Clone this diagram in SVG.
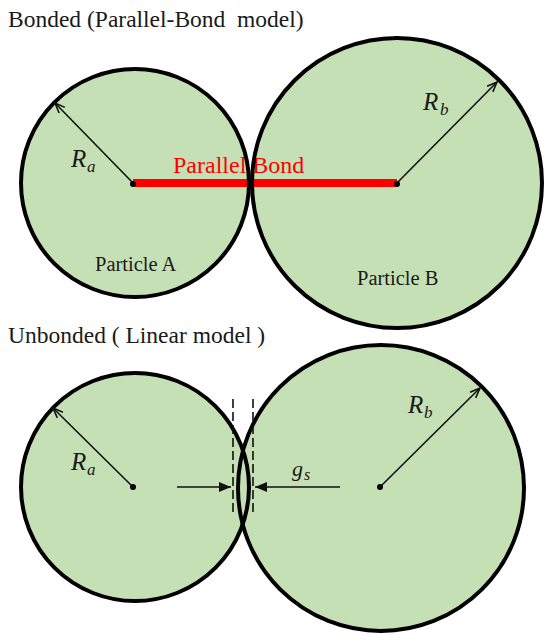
<svg xmlns="http://www.w3.org/2000/svg" xmlns:xlink="http://www.w3.org/1999/xlink" width="550" height="644" viewBox="0 0 550 644">
  <style>
    .fill { fill: #c5e0b4; stroke: none; }
    .outline { fill: none; stroke: #000; stroke-width: 4; }
    .title { font-family: "Liberation Serif", "Times New Roman", serif; font-size: 23.5px; fill: #1a1a1a; }
    .plabel { font-family: "Liberation Serif", "Times New Roman", serif; font-size: 20.5px; fill: #1a1a1a; }
    .sym { font-family: "Liberation Serif", "Times New Roman", serif; font-style: italic; fill: #1a1a1a; }
    .radius { stroke: #111; stroke-width: 1.6; fill: none; marker-end: url(#open); }
    .gap { stroke: #111; stroke-width: 1.6; fill: none; marker-end: url(#solid); }
    .dash { stroke: #111; stroke-width: 1.6; stroke-dasharray: 9 4; fill: none; }
    .dot { fill: #000; }
  </style>
  <defs>
    <marker id="open" markerUnits="userSpaceOnUse" markerWidth="14" markerHeight="12" refX="11" refY="5" orient="auto">
      <path d="M1,1 L11,5 L1,9" fill="none" stroke="#111" stroke-width="1.6"/>
    </marker>
    <marker id="solid" markerUnits="userSpaceOnUse" markerWidth="14" markerHeight="12" refX="12" refY="5" orient="auto">
      <path d="M0,0 L12,5 L0,10 Z" fill="#111"/>
    </marker>
    <circle id="cAt" cx="135" cy="183" r="114"/>
    <circle id="cBt" cx="397" cy="183" r="145"/>
    <circle id="cAb" cx="135" cy="487" r="114"/>
    <circle id="cBb" cx="381" cy="488" r="143"/>
  </defs>

  <rect width="550" height="644" fill="#fff"/>

  <text class="title" x="8" y="27" xml:space="preserve">Bonded (Parallel-Bond  model)</text>
  <text class="title" x="8" y="343" xml:space="preserve">Unbonded ( Linear model )</text>

  <!-- Top: bonded -->
  <g id="particle-a-top">
    <use xlink:href="#cAt" class="fill"/>
    <text class="plabel" x="95" y="271">Particle A</text>
  </g>
  <g id="particle-b-top">
    <use xlink:href="#cBt" class="fill"/>
    <text class="plabel" x="357" y="285">Particle B</text>
  </g>

  <!-- Bottom: unbonded -->
  <g id="particle-a-bottom">
    <use xlink:href="#cAb" class="fill"/>
  </g>
  <g id="particle-b-bottom">
    <use xlink:href="#cBb" class="fill"/>
  </g>

  <g id="parallel-bond">
    <line x1="133" y1="183" x2="397" y2="183" stroke="#ff0000" stroke-width="8"/>
    <text x="173" y="173" font-family="Liberation Serif, Times New Roman, serif" font-size="24" fill="#ff0000">Parallel Bond</text>
  </g>

  <g id="outlines">
    <use xlink:href="#cAt" class="outline"/>
    <use xlink:href="#cBt" class="outline"/>
    <use xlink:href="#cAb" class="outline"/>
    <use xlink:href="#cBb" class="outline"/>
  </g>

  <g id="connectors">
    <line class="radius" x1="133" y1="183" x2="55" y2="103"/>
    <line class="radius" x1="397" y1="183" x2="497" y2="82"/>
    <line class="radius" x1="133" y1="487" x2="53" y2="408"/>
    <line class="radius" x1="380" y1="487" x2="480" y2="388"/>
    <line class="dash" x1="233" y1="399" x2="233" y2="515"/>
    <line class="dash" x1="253" y1="399" x2="253" y2="515"/>
    <line class="gap" x1="177" y1="487" x2="231" y2="487"/>
    <line class="gap" x1="340" y1="487" x2="255" y2="487"/>
  </g>

  <g id="centers">
    <circle class="dot" cx="133" cy="184" r="3"/>
    <circle class="dot" cx="397" cy="184" r="3"/>
    <circle class="dot" cx="133" cy="487" r="3"/>
    <circle class="dot" cx="380" cy="487" r="3"/>
  </g>

  <g id="labels">
    <text class="sym" x="71" y="167" font-size="25">R</text>
    <text class="sym" x="87" y="172" font-size="17">a</text>
    <text class="sym" x="423" y="110" font-size="25">R</text>
    <text class="sym" x="440" y="115" font-size="17">b</text>
    <text class="sym" x="71" y="470" font-size="25">R</text>
    <text class="sym" x="87" y="475" font-size="17">a</text>
    <text class="sym" x="408" y="413" font-size="25">R</text>
    <text class="sym" x="424" y="418" font-size="17">b</text>
    <text class="sym" x="292" y="476" font-size="22">g</text>
    <text class="sym" x="304" y="480" font-size="16">s</text>
  </g>
</svg>
